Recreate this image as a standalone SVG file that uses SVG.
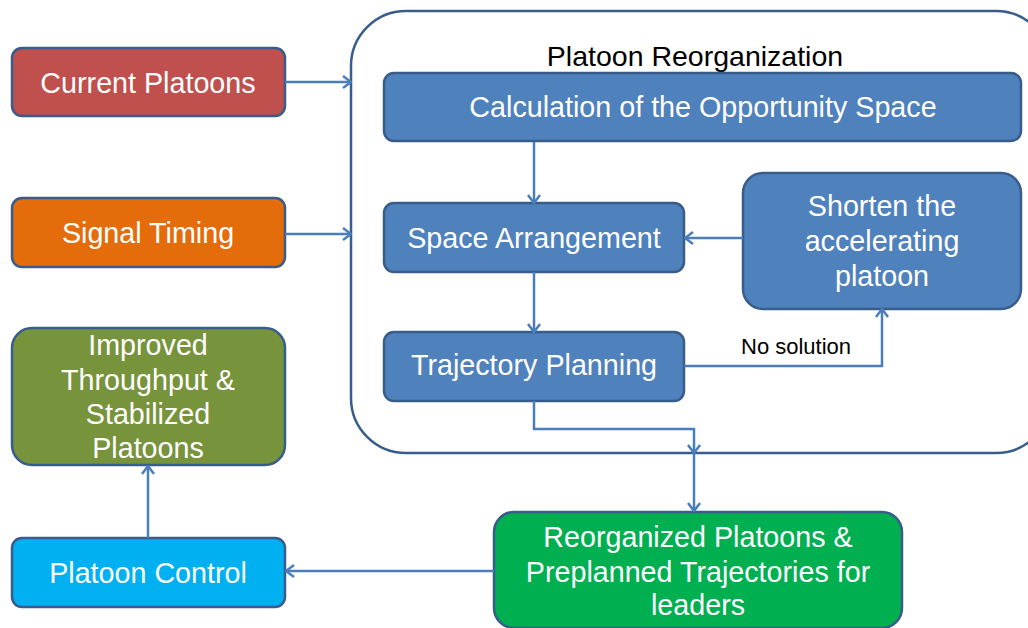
<svg xmlns="http://www.w3.org/2000/svg" width="1028" height="628" viewBox="0 0 1028 628">
<style>
.box{stroke:#385D8A;stroke-width:2.5}
.t{font-family:"Liberation Sans",Arial,sans-serif;font-size:28.7px;fill:#fff;text-anchor:middle}
.c{fill:none;stroke:#4A7EBB;stroke-width:2.5;marker-end:url(#ah)}
</style>
<defs>
<marker id="ah" viewBox="0 0 10 14" refX="9" refY="7" markerWidth="10" markerHeight="14" markerUnits="userSpaceOnUse" orient="auto">
<path d="M1,1 L9,7 L1,13" fill="none" stroke="#4A7EBB" stroke-width="2.5"/>
</marker>
</defs>
<rect width="1028" height="628" fill="#fff"/>
<g id="container">
<rect x="351" y="11" width="700" height="442" rx="55" ry="55" fill="#fff" stroke="#385D8A" stroke-width="2.5"/>
<text x="695" y="66" style="font-family:'Liberation Sans',Arial,sans-serif;font-size:28.5px;fill:#000;text-anchor:middle">Platoon Reorganization</text>
</g>
<g id="current">
<rect class="box" x="12" y="48" width="273" height="68" rx="10" fill="#C0504D"/>
<text class="t" x="148" y="93">Current Platoons</text>
</g>
<g id="signal">
<rect class="box" x="12" y="198" width="273" height="69" rx="10" fill="#E46C0A"/>
<text class="t" x="148" y="243">Signal Timing</text>
</g>
<g id="improved">
<rect class="box" x="12" y="328" width="273" height="137" rx="20" fill="#77933C"/>
<text class="t" x="148" y="355">Improved</text>
<text class="t" x="148" y="390">Throughput &amp;</text>
<text class="t" x="148" y="424">Stabilized</text>
<text class="t" x="148" y="458">Platoons</text>
</g>
<g id="control">
<rect class="box" x="12" y="538" width="273" height="69" rx="10" fill="#00B0F0"/>
<text class="t" x="148" y="583">Platoon Control</text>
</g>
<g id="calc">
<rect class="box" x="384" y="73" width="637" height="68" rx="10" fill="#4F81BD"/>
<text class="t" x="703" y="117">Calculation of the Opportunity Space</text>
</g>
<g id="space">
<rect class="box" x="384" y="203" width="300" height="69" rx="10" fill="#4F81BD"/>
<text class="t" x="534" y="248">Space Arrangement</text>
</g>
<g id="traj">
<rect class="box" x="384" y="332" width="300" height="69" rx="10" fill="#4F81BD"/>
<text class="t" x="534" y="375">Trajectory Planning</text>
</g>
<g id="shorten">
<rect class="box" x="743" y="173" width="278" height="136" rx="20" fill="#4F81BD"/>
<text class="t" x="882" y="216">Shorten the</text>
<text class="t" x="882" y="251">accelerating</text>
<text class="t" x="882" y="286">platoon</text>
</g>
<g id="reorg">
<rect class="box" x="494" y="512" width="408" height="116" rx="20" fill="#00B050"/>
<text class="t" x="698" y="547">Reorganized Platoons &amp;</text>
<text class="t" x="698" y="582">Preplanned Trajectories for</text>
<text class="t" x="698" y="615">leaders</text>
</g>
<g id="connectors">
<path class="c" d="M285,82 L351,82"/>
<path class="c" d="M285,234 L351,234"/>
<path class="c" d="M534,142 L534,203"/>
<path class="c" d="M534,272 L534,332"/>
<path class="c" d="M743,238 L685,238"/>
<path class="c" d="M684,366 L882,366 L882,309"/>
<path class="c" d="M534,401 L534,429 L694,429 L694,453"/>
<path class="c" d="M694,453 L694,511"/>
<path class="c" d="M494,571 L286,571"/>
<path class="c" d="M148,538 L148,466"/>
<text x="741" y="354" style="font-family:'Liberation Sans',Arial,sans-serif;font-size:22px;fill:#000">No solution</text>
</g>
</svg>
